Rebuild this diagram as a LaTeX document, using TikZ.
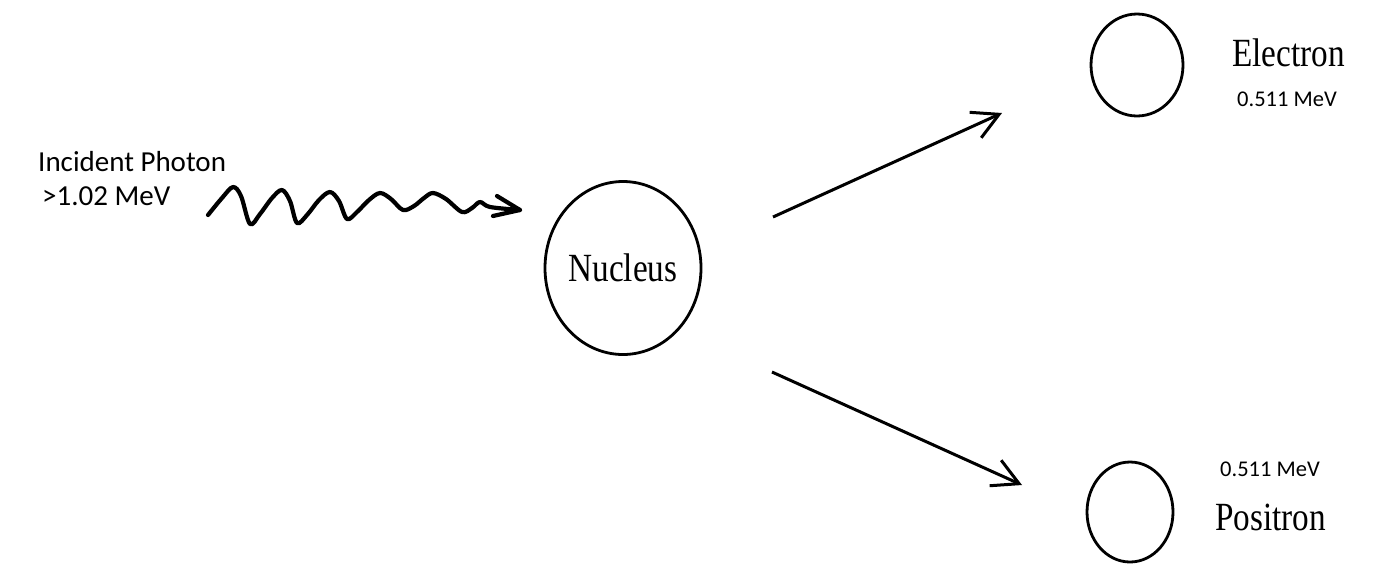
\documentclass[tikz,border=0pt]{standalone}
\usepackage{fontspec}
\setmainfont{Liberation Serif}
\newfontfamily\calib{Carlito}
\usetikzlibrary{arrows.meta,shapes.geometric}
\tikzset{
  ring/.style={ellipse, draw=black, line width=2.8pt, inner sep=0pt},
  bigtxt/.style={font=\fontsize{40}{42}\selectfont},
  smalltxt/.style={font=\calib\fontsize{22.5}{24}\selectfont, inner sep=0pt},
  midtxt/.style={font=\calib\fontsize{29}{31}\selectfont, inner sep=0pt},
  serlabel/.style={font=\fontsize{40}{42}\selectfont, inner sep=0pt},
  ray/.style={line width=3pt, -{Straight Barb[length=26pt, width=28pt, line width=3pt]}},
  wave/.style={line width=4.2pt, line cap=round, line join=round}
}
\newcommand{\sq}[1]{\scalebox{0.83}[1]{#1}}
\begin{document}
\begin{tikzpicture}[x=1pt,y=-1pt]
\fill[white] (0,0) rectangle (1391,563);
\useasboundingbox (0,0) rectangle (1391,563);

% nodes
\node[ring, minimum width=156pt, minimum height=173pt, bigtxt] (nucleus) at (623,268) {\sq{Nucleus}};
\node[ring, minimum width=92pt, minimum height=102pt] (electron) at (1137,65) {};
\node[ring, minimum width=86pt, minimum height=100pt] (positron) at (1130,512) {};

% labels
\node[serlabel, anchor=base west] (elab) at (1232,66) {\sq{Electron}};
\node[smalltxt, anchor=base west] (eev) at (1237,106) {0.511 MeV};
\node[smalltxt, anchor=base west] (pev) at (1220,476) {0.511 MeV};
\node[serlabel, anchor=base west] (plab) at (1215,530) {\sq{Positron}};
\node[midtxt, anchor=base west] (inc) at (38,171) {Incident Photon};
\node[midtxt, anchor=base west] (inev) at (42,205) {>1.02 MeV};

% outgoing rays
\coordinate (eS) at (773,217);
\coordinate (eT) at (1002,113);
\coordinate (pS) at (772,372);
\coordinate (pT) at (1022,485);
\draw[ray] (eS) -- (eT);
\draw[ray] (pS) -- (pT);

% photon wave
\coordinate (wS) at (208,215);
\coordinate (wT) at (520,210);
\coordinate (wA) at (497,196);
\coordinate (wB) at (493,216);
\draw[wave] plot[smooth, tension=0.55] coordinates {
 (208,215) (222,198) (233,187) (241,196) (250,224) (260,214) (272,198) (282,190)
 (290,201) (297,223) (307,215) (319,200) (330,192) (339,201) (347,219) (357,212)
 (369,200) (380,193) (391,199) (403,210) (414,206) (424,198) (433,193) (446,199)
 (462,212) (472,208) (480,202) (490,207) (520,210)};
\draw[wave] (wA) -- (wT) -- (wB);
\end{tikzpicture}
\end{document}
